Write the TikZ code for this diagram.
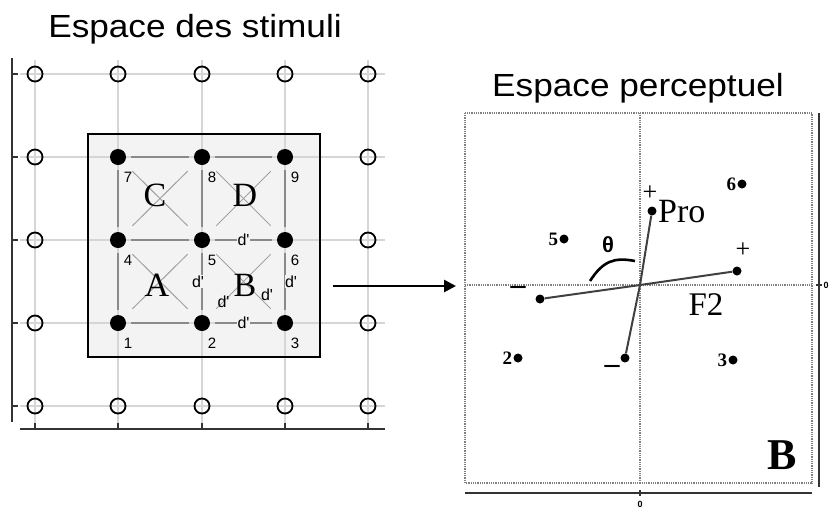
\documentclass[tikz,border=0pt]{standalone}
\usepackage{fontspec}
\setmainfont{Liberation Serif}
\setsansfont{Liberation Sans}
\newfontfamily\titlefont[FakeStretch=1.1]{Liberation Sans}
\usetikzlibrary{arrows.meta}

\definecolor{gridgray}{HTML}{D6D6D6}
\definecolor{boxgray}{HTML}{F3F3F3}
\definecolor{linkgray}{HTML}{8A8A8A}
\definecolor{veccol}{HTML}{404040}

\tikzset{
  gridline/.style={gridgray, line width=1.3pt},
  opendot/.style={circle, draw, line width=1.8pt, minimum size=15pt, inner sep=0pt},
  fulldot/.style={circle, fill, minimum size=16pt, inner sep=0pt},
  smalldot/.style={circle, fill, minimum size=9pt, inner sep=0pt},
  linkline/.style={linkgray, line width=1.8pt, shorten <=5pt, shorten >=5pt},
  diagline/.style={linkgray!80, line width=1pt, shorten <=12pt, shorten >=12pt},
  numtxt/.style={font=\sffamily\fontsize{15}{15}\selectfont, inner sep=0pt},
  dtxt/.style={font=\sffamily\fontsize{16}{16}\selectfont, text=black, inner sep=0.5pt, fill=boxgray},
  cellletter/.style={font=\fontsize{34}{34}\selectfont, inner sep=0pt},
  titletxt/.style={font=\titlefont\fontsize{32}{36}\selectfont, inner sep=0pt, anchor=base},
  axisline/.style={line width=2pt, black!80},
  dotline/.style={gray, line width=1.5pt, dash pattern=on 1pt off 0.8pt},
  vecline/.style={veccol, line width=2pt},
  signtxt/.style={font=\fontsize{26}{26}\selectfont, inner sep=0pt},
  minustxt/.style={font=\bfseries\fontsize{30}{30}\selectfont, inner sep=0pt},
  pnum/.style={font=\bfseries\fontsize{19}{19}\selectfont, inner sep=0pt},
  zerotxt/.style={font=\sffamily\bfseries\fontsize{9}{9}\selectfont, inner sep=0pt}
}

\begin{document}
\begin{tikzpicture}[x=1pt, y=-1pt]
    \useasboundingbox (0,0) rectangle (829,509);

    % Titles
    \node[titletxt] (stimtitle) at (195,37) {Espace des stimuli};
    \node[titletxt] (perctitle) at (638,96) {Espace perceptuel};

    % Stimulus space: box, grid and axes
    \fill[boxgray] (88,134) rectangle (320,357);
    \foreach \x in {35,118,202,285,368}
        \draw[gridline] (\x,60) -- (\x,425);
    \foreach \y in {74,157,240,323,406}
        \draw[gridline] (20,\y) -- (385,\y);
    \draw[line width=2.2pt] (88,134) rectangle (320,357);

    \draw[axisline] (12,58) -- (12,422);
    \foreach \y in {74,157,240,323,406}
        \draw[axisline, line width=1.5pt] (12,\y) -- (18,\y);
    \draw[axisline] (20,429) -- (385,429);
    \foreach \x in {35,118,202,285,368}
        \draw[axisline, line width=1.5pt] (\x,429) -- (\x,423);

    % Open circles on the outer grid
    \foreach \x/\y [count=\k] in {35/74,35/157,35/240,35/323,35/406,
                                  368/74,368/157,368/240,368/323,368/406,
                                  118/74,202/74,285/74,118/406,202/406,285/406}
        \node[opendot] (g\k) at (\x,\y) {};

    % The nine stimuli
    \foreach \n/\x/\y in {1/118/323, 2/202/323, 3/285/323,
                          4/118/240, 5/202/240, 6/285/240,
                          7/118/157, 8/202/157, 9/285/157} {
        \node[fulldot] (s\n) at (\x,\y) {};
        \node[numtxt] (n\n) at (\x+10,\y+20) {\n};
    }

    % Links between neighbours
    \foreach \a/\b in {1/2,4/5,7/8,8/9,1/4,4/7,5/8,6/9}
        \draw[linkline] (s\a) -- (s\b);
    \draw[linkline] (s5) -- node[dtxt] {d\textquotesingle} (s6);
    \draw[linkline] (s2) -- node[dtxt] {d\textquotesingle} (s3);
    \draw[linkline] (s2) -- node[dtxt, xshift=-4pt] {d\textquotesingle} (s5);
    \draw[linkline] (s3) -- node[dtxt, xshift=6pt] {d\textquotesingle} (s6);

    % Diagonals
    \foreach \a/\b in {1/5,2/4,3/5,4/8,5/7,5/9,6/8}
        \draw[diagline] (s\a) -- (s\b);
    \draw[diagline] (s2) -- node[dtxt, pos=0.22, fill=none] {d\textquotesingle} (s6);
    \node[dtxt, fill=none] (dB) at (267,295) {d\textquotesingle};

    % Cell letters
    \node[cellletter] (lettA) at (157,285) {A};
    \node[cellletter] (lettB) at (245,285) {B};
    \node[cellletter] (lettC) at (155,195) {C};
    \node[cellletter] (lettD) at (245,195) {D};

    % Arrow between the spaces
    \coordinate (arrfrom) at (333,286);
    \coordinate (arrto) at (456,286);
    \draw[line width=2.6pt, -{Triangle[length=12pt, width=12pt]}] (arrfrom) -- (arrto);

    % Perceptual space: frame and axes
    \draw[dotline] (465,113) rectangle (812,483);
    \coordinate (origin) at (640,285);
    \draw[dotline] (640,113) -- (640,483);
    \draw[dotline] (465,285) -- (812,285);

    \draw[axisline, line width=1.6pt] (819,113) -- (819,487);
    \draw[axisline, line width=1.6pt] (816,285) -- (822,285);
    \node[zerotxt] (zeroR) at (826,285) {0};
    \draw[axisline, line width=1.6pt] (465,493) -- (812,493);
    \draw[axisline, line width=1.6pt] (640,490) -- (640,496);
    \node[zerotxt] (zeroB) at (640,504) {0};

    % Stimuli in the perceptual space
    \node[smalldot, label={[pnum, label distance=1pt]left:6}] (p6) at (742,184) {};
    \node[smalldot, label={[pnum, label distance=1pt]left:5}] (p5) at (564,239) {};
    \node[smalldot, label={[pnum, label distance=1pt]left:2}] (p2) at (518,358) {};
    \node[smalldot, label={[pnum, label distance=1pt]left:3}] (p3) at (733,360) {};

    % Pro and F2 directions
    \node[smalldot] (proplus) at (652,211) {};
    \node[smalldot] (prominus) at (625,358) {};
    \node[smalldot] (ftwoplus) at (737,271) {};
    \node[smalldot] (ftwominus) at (540,299) {};
    \draw[vecline] (prominus) -- (origin) -- (proplus);
    \draw[vecline] (ftwominus) -- (origin) -- (ftwoplus);

    \node[signtxt] (plusA) at (650,193) {+};
    \node[signtxt] (plusB) at (743,250) {+};
    \node[minustxt] (minusA) at (518,290) {–};
    \node[minustxt] (minusB) at (612,369) {–};
    \node[font=\fontsize{34}{34}\selectfont, inner sep=0pt, anchor=base west] (protxt) at (658,222) {Pro};
    \node[font=\fontsize{33}{33}\selectfont, inner sep=0pt, anchor=base] (ftwotxt) at (706,315) {F2};

    % Angle
    \draw[line width=2.6pt] (590,281) .. controls (603,261) and (614,257) .. (635,261);
    \node[font=\sffamily\bfseries\fontsize{22}{22}\selectfont, inner sep=0pt] (theta) at (608,245) {θ};

    \node[font=\bfseries\fontsize{44}{44}\selectfont, inner sep=0pt] (panelB) at (782,455) {B};

\end{tikzpicture}
\end{document}
